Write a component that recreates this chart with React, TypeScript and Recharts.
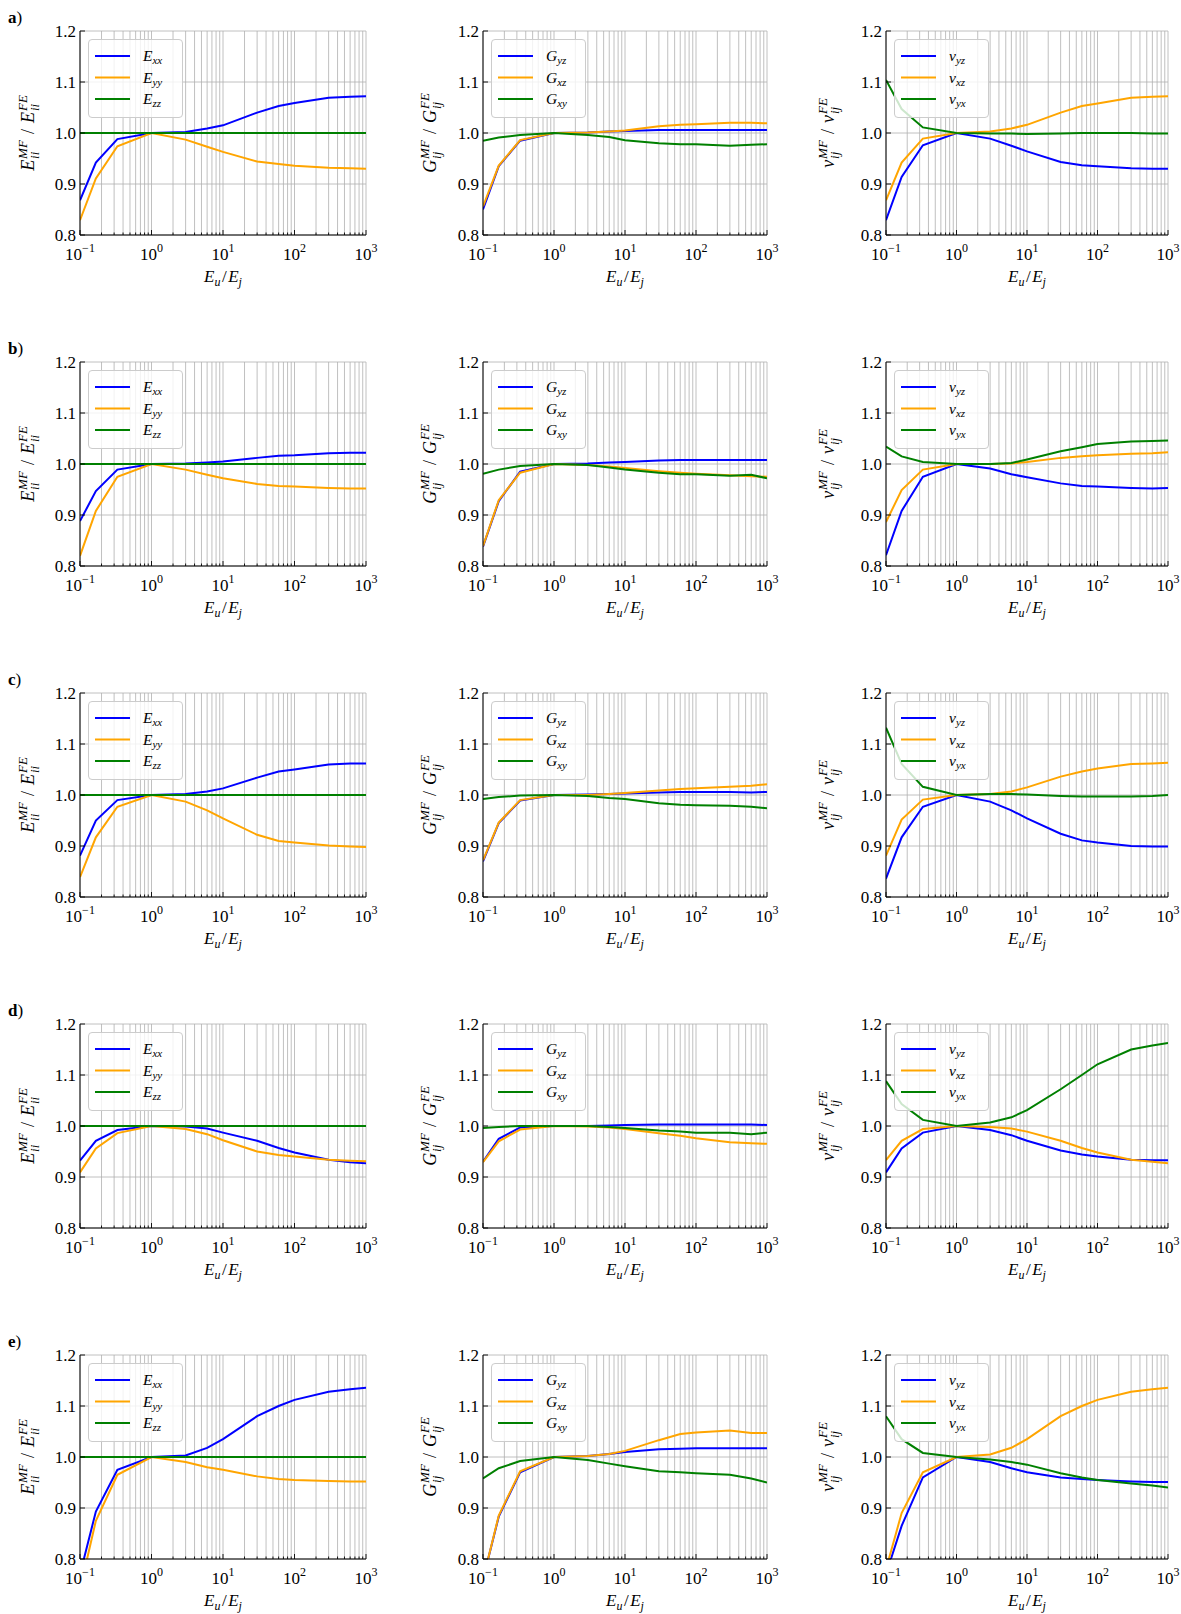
import React from 'react';
import { LineChart, Line, XAxis, YAxis, CartesianGrid, Legend } from 'recharts';

// ---------------- data ----------------
const X_RATIO = [0.1, 1 / 6, 1 / 3, 1, 3, 6, 10, 30, 60, 100, 300, 600, 1000];
const X_TICKS = [
  0.1, 0.2, 0.3, 0.4, 0.5, 0.6, 0.7, 0.8, 0.9,
  1, 2, 3, 4, 5, 6, 7, 8, 9,
  10, 20, 30, 40, 50, 60, 70, 80, 90,
  100, 200, 300, 400, 500, 600, 700, 800, 900,
  1000,
];
const X_MAJOR = [0.1, 1, 10, 100, 1000];
const X_MAJOR_EXP = ['\u22121', '0', '1', '2', '3'];
const Y_TICKS = [0.8, 0.9, 1.0, 1.1, 1.2];
const ROW_LETTERS = ['a', 'b', 'c', 'd', 'e'];

const E_ZZ = [1, 1, 1, 1, 1, 1, 1, 1, 1, 1, 1, 1, 1];

const A_EXX = [0.868, 0.942, 0.988, 1.0, 1.002, 1.009, 1.015, 1.040, 1.053, 1.059, 1.069, 1.071, 1.072];
const A_EYY = [0.829, 0.911, 0.974, 1.0, 0.987, 0.973, 0.963, 0.944, 0.939, 0.936, 0.932, 0.931, 0.930];
const A_GYZ = [0.850, 0.935, 0.985, 1.0, 1.001, 1.003, 1.004, 1.006, 1.006, 1.006, 1.006, 1.006, 1.006];
const A_GXZ = [0.856, 0.936, 0.986, 1.0, 1.001, 1.003, 1.005, 1.013, 1.016, 1.017, 1.020, 1.020, 1.019];
const A_GXY = [0.985, 0.991, 0.996, 1.0, 0.996, 0.992, 0.986, 0.980, 0.978, 0.978, 0.975, 0.977, 0.978];
const A_NYZ = [0.829, 0.914, 0.976, 1.0, 0.989, 0.975, 0.964, 0.943, 0.937, 0.935, 0.931, 0.930, 0.930];
const A_NXZ = [0.868, 0.942, 0.989, 1.0, 1.003, 1.009, 1.016, 1.040, 1.053, 1.058, 1.069, 1.071, 1.072];
const A_NYX = [1.104, 1.047, 1.011, 1.0, 0.999, 0.999, 0.998, 0.999, 1.0, 1.0, 1.0, 0.999, 0.999];

const B_EXX = [0.888, 0.947, 0.989, 1.0, 1.001, 1.003, 1.005, 1.012, 1.016, 1.017, 1.021, 1.022, 1.022];
const B_EYY = [0.820, 0.908, 0.975, 1.0, 0.989, 0.979, 0.972, 0.961, 0.957, 0.956, 0.953, 0.952, 0.952];
const B_GYZ = [0.838, 0.927, 0.985, 1.0, 1.001, 1.003, 1.004, 1.007, 1.008, 1.008, 1.008, 1.008, 1.008];
const B_GXZ = [0.839, 0.929, 0.983, 1.0, 0.998, 0.995, 0.992, 0.986, 0.983, 0.981, 0.978, 0.976, 0.975];
const B_GXY = [0.981, 0.989, 0.996, 1.0, 0.998, 0.993, 0.989, 0.983, 0.980, 0.980, 0.977, 0.979, 0.972];
const B_NYZ = [0.821, 0.908, 0.975, 1.0, 0.991, 0.980, 0.974, 0.962, 0.957, 0.956, 0.953, 0.952, 0.953];
const B_NXZ = [0.886, 0.949, 0.989, 1.0, 1.0, 1.001, 1.004, 1.012, 1.015, 1.017, 1.020, 1.021, 1.023];
const B_NYX = [1.034, 1.015, 1.004, 1.0, 1.0, 1.002, 1.009, 1.025, 1.033, 1.039, 1.044, 1.045, 1.046];

const C_EXX = [0.881, 0.950, 0.990, 1.0, 1.002, 1.007, 1.013, 1.034, 1.046, 1.050, 1.060, 1.062, 1.062];
const C_EYY = [0.839, 0.917, 0.977, 1.0, 0.987, 0.970, 0.954, 0.922, 0.910, 0.907, 0.901, 0.899, 0.898];
const C_GYZ = [0.870, 0.945, 0.989, 1.0, 1.001, 1.002, 1.003, 1.005, 1.006, 1.006, 1.006, 1.005, 1.006];
const C_GXZ = [0.872, 0.946, 0.990, 1.0, 1.0, 1.002, 1.004, 1.009, 1.012, 1.013, 1.016, 1.018, 1.021];
const C_GXY = [0.992, 0.996, 0.999, 1.0, 0.998, 0.994, 0.992, 0.984, 0.981, 0.980, 0.979, 0.977, 0.974];
const C_NYZ = [0.836, 0.917, 0.977, 1.0, 0.987, 0.970, 0.954, 0.924, 0.911, 0.907, 0.900, 0.899, 0.899];
const C_NXZ = [0.881, 0.952, 0.991, 1.0, 1.002, 1.007, 1.015, 1.036, 1.046, 1.052, 1.061, 1.062, 1.063];
const C_NYX = [1.132, 1.061, 1.016, 1.0, 1.002, 1.002, 1.001, 0.998, 0.997, 0.997, 0.997, 0.998, 1.0];

const D_EXX = [0.932, 0.971, 0.992, 1.0, 0.999, 0.995, 0.987, 0.971, 0.957, 0.948, 0.934, 0.929, 0.927];
const D_EYY = [0.909, 0.956, 0.986, 1.0, 0.994, 0.984, 0.972, 0.950, 0.943, 0.940, 0.934, 0.932, 0.931];
const D_GYZ = [0.930, 0.975, 0.997, 1.0, 1.0, 1.001, 1.002, 1.003, 1.003, 1.003, 1.003, 1.003, 1.002];
const D_GXZ = [0.929, 0.970, 0.993, 1.0, 0.999, 0.997, 0.994, 0.986, 0.981, 0.976, 0.968, 0.966, 0.965];
const D_GXY = [0.996, 0.998, 1.0, 1.0, 1.0, 0.998, 0.996, 0.991, 0.989, 0.987, 0.987, 0.984, 0.987];
const D_NYZ = [0.909, 0.956, 0.987, 1.0, 0.992, 0.982, 0.971, 0.952, 0.944, 0.940, 0.934, 0.933, 0.933];
const D_NXZ = [0.933, 0.971, 0.994, 1.0, 0.998, 0.995, 0.989, 0.971, 0.957, 0.948, 0.934, 0.930, 0.927];
const D_NYX = [1.088, 1.043, 1.012, 1.0, 1.007, 1.017, 1.031, 1.072, 1.100, 1.121, 1.150, 1.158, 1.163];

const E_EXX = [0.770, 0.893, 0.975, 1.0, 1.003, 1.018, 1.035, 1.080, 1.100, 1.112, 1.128, 1.133, 1.136];
const E_EYY = [0.740, 0.875, 0.965, 1.0, 0.990, 0.980, 0.975, 0.962, 0.957, 0.955, 0.953, 0.952, 0.952];
const E_GYZ = [0.760, 0.883, 0.970, 1.0, 1.002, 1.006, 1.010, 1.015, 1.016, 1.017, 1.017, 1.017, 1.017];
const E_GXZ = [0.760, 0.885, 0.972, 1.0, 1.002, 1.006, 1.012, 1.033, 1.045, 1.048, 1.052, 1.047, 1.047];
const E_GXY = [0.958, 0.978, 0.992, 1.0, 0.994, 0.987, 0.982, 0.972, 0.970, 0.968, 0.965, 0.958, 0.950];
const E_NYZ = [0.770, 0.865, 0.960, 1.0, 0.990, 0.978, 0.970, 0.960, 0.957, 0.955, 0.952, 0.951, 0.951];
const E_NXZ = [0.780, 0.890, 0.970, 1.0, 1.005, 1.018, 1.035, 1.080, 1.100, 1.112, 1.128, 1.133, 1.136];
const E_NYX = [1.080, 1.035, 1.008, 1.0, 0.995, 0.990, 0.985, 0.968, 0.960, 0.955, 0.948, 0.944, 0.940];

const ROWS = [
  [[A_EXX, A_EYY, E_ZZ], [A_GYZ, A_GXZ, A_GXY], [A_NYZ, A_NXZ, A_NYX]],
  [[B_EXX, B_EYY, E_ZZ], [B_GYZ, B_GXZ, B_GXY], [B_NYZ, B_NXZ, B_NYX]],
  [[C_EXX, C_EYY, E_ZZ], [C_GYZ, C_GXZ, C_GXY], [C_NYZ, C_NXZ, C_NYX]],
  [[D_EXX, D_EYY, E_ZZ], [D_GYZ, D_GXZ, D_GXY], [D_NYZ, D_NXZ, D_NYX]],
  [[E_EXX, E_EYY, E_ZZ], [E_GYZ, E_GXZ, E_GXY], [E_NYZ, E_NXZ, E_NYX]],
];

const COLORS = ['#0000ff', '#ffa500', '#008000'];
const COLUMNS = [
  { base: 'E', ysub: 'ii', subs: ['xx', 'yy', 'zz'], off: -46 },
  { base: 'G', ysub: 'ij', subs: ['yz', 'xz', 'xy'], off: -47 },
  { base: '\u03bd', ysub: 'ij', subs: ['yz', 'xz', 'yx'], off: -52 },
];

// ---------------- layout ----------------
const SERIF = '"Liberation Serif", "DejaVu Serif", "Times New Roman", serif';
const COL_LEFT = [80, 483, 886];
const COL_WIDTH = [286, 284, 282];
const ROW_TOP = [31, 362, 693, 1024, 1355];
const PLOT_H = 204;
const ML = 80;
const MT = 20;
const MR = 20;
const MB = 60;
const FS = 17;
const FS_SMALL = 12;
const FS_LAB = 18;
const FS_LAB_SMALL = 13;

const isMajor = (v: number) => X_MAJOR.indexOf(v) >= 0;

const BottomTick = (p: any) => {
  const { x, y, payload } = p;
  const v = payload.value;
  const major = isMajor(v);
  const idx = X_MAJOR.indexOf(v);
  return (
    <g>
      <line x1={x} x2={x} y1={y} y2={y - (major ? 5 : 2.5)} stroke="#000" strokeWidth={0.9} />
      {major && (
        <text x={x} y={y + 25} textAnchor="middle" fontFamily={SERIF} fontSize={FS} fill="#000">
          10<tspan dy={-8} fontSize={FS_SMALL}>{X_MAJOR_EXP[idx]}</tspan>
        </text>
      )}
    </g>
  );
};

const TopTick = (p: any) => {
  const { x, y, payload } = p;
  const major = isMajor(payload.value);
  return <line x1={x} x2={x} y1={y} y2={y + (major ? 5 : 2.5)} stroke="#000" strokeWidth={0.9} />;
};

const LeftTick = (p: any) => {
  const { x, y, payload } = p;
  return (
    <g>
      <line x1={x} x2={x + 5} y1={y} y2={y} stroke="#000" strokeWidth={0.9} />
      <text x={x - 4} y={y} dy="0.35em" textAnchor="end" fontFamily={SERIF} fontSize={FS} fill="#000">
        {Number(payload.value).toFixed(1)}
      </text>
    </g>
  );
};

const RightTick = (p: any) => {
  const { x, y } = p;
  return <line x1={x} x2={x - 5} y1={y} y2={y} stroke="#000" strokeWidth={0.9} />;
};

function XLabel(props: any) {
  const vb = props.viewBox || {};
  const cx = vb.x + vb.width / 2;
  const by = vb.y + 47;
  return (
    <text x={cx} y={by} textAnchor="middle" fontFamily={SERIF} fontSize={FS} fill="#000">
      <tspan fontStyle="italic">E</tspan>
      <tspan fontStyle="italic" fontSize={FS_SMALL} dy={3.5}>u</tspan>
      <tspan dy={-3.5} dx={1.5}>/</tspan>
      <tspan fontStyle="italic" dx={1.5}>E</tspan>
      <tspan fontStyle="italic" fontSize={FS_SMALL} dy={3.5}>j</tspan>
    </text>
  );
}

function YLabel(props: any, col: any) {
  const vb = props.viewBox || {};
  const bx = vb.x + vb.width + col.off;
  const cy = vb.y + vb.height / 2;
  const supW1 = 18.8;
  const supW2 = 15.9;
  const subW = 7.2;
  return (
    <text
      transform={`rotate(-90 ${bx} ${cy})`}
      x={bx}
      y={cy}
      textAnchor="middle"
      fontFamily={SERIF}
      fontSize={FS_LAB}
      fill="#000"
    >
      <tspan fontStyle="italic">{col.base}</tspan>
      <tspan fontStyle="italic" fontSize={FS_LAB_SMALL} dx={1} dy={-7.5}>MF</tspan>
      <tspan fontStyle="italic" fontSize={FS_LAB_SMALL} dx={-supW1} dy={12}>{col.ysub}</tspan>
      <tspan dx={supW1 - subW + 6} dy={-4.5}>/</tspan>
      <tspan fontStyle="italic" dx={6}>{col.base}</tspan>
      <tspan fontStyle="italic" fontSize={FS_LAB_SMALL} dx={1} dy={-7.5}>FE</tspan>
      <tspan fontStyle="italic" fontSize={FS_LAB_SMALL} dx={-supW2} dy={12}>{col.ysub}</tspan>
    </text>
  );
}

function LegendBox({ col }: any) {
  const W = 95;
  const H = 79;
  return (
    <div
      style={{
        width: W,
        height: H,
        boxSizing: 'border-box',
        border: '1px solid #cccccc',
        borderRadius: 4,
        background: 'rgba(255,255,255,0.8)',
      }}
    >
      <svg width={W - 2} height={H - 2} style={{ display: 'block' }}>
        {col.subs.map((s: string, i: number) => {
          const yy = 16 + i * 21.5;
          return (
            <g key={s}>
              <line x1={6} x2={41} y1={yy} y2={yy} stroke={COLORS[i]} strokeWidth={2} />
              <text x={54} y={yy + 5} fontFamily={SERIF} fontSize={15.5} fill="#000" fontStyle="italic">
                {col.base}
                <tspan fontSize={11} dy={3}>{s}</tspan>
              </text>
            </g>
          );
        })}
      </svg>
    </div>
  );
}

function Panel({ row, colIdx }: { row: number; colIdx: number }) {
  const col = COLUMNS[colIdx];
  const series = ROWS[row][colIdx];
  const width = COL_WIDTH[colIdx];
  const data = X_RATIO.map((x, i) => ({ x, s0: series[0][i], s1: series[1][i], s2: series[2][i] }));
  const left = COL_LEFT[colIdx];
  const top = ROW_TOP[row];
  return (
    <div style={{ position: 'absolute', left: left - ML, top: top - MT }}>
      <LineChart
        width={width + ML + MR}
        height={PLOT_H + MT + MB}
        data={data}
        margin={{ top: MT, right: MR, bottom: 0, left: 0 }}
      >
        <CartesianGrid stroke="#b0b0b0" strokeWidth={0.8} />
        <XAxis
          dataKey="x"
          type="number"
          scale="log"
          domain={[0.1, 1000]}
          allowDataOverflow
          ticks={X_TICKS}
          interval={0}
          height={MB}
          tickSize={0}
          tickMargin={0}
          tickLine={false}
          axisLine={{ stroke: '#000', strokeWidth: 1 }}
          tick={(p: any) => <BottomTick {...p} />}
          label={{ content: (p: any) => <XLabel {...p} /> }}
        />
        <XAxis
          xAxisId="top"
          orientation="top"
          dataKey="x"
          type="number"
          scale="log"
          domain={[0.1, 1000]}
          allowDataOverflow
          ticks={X_TICKS}
          interval={0}
          height={0}
          tickSize={0}
          tickMargin={0}
          tickLine={false}
          axisLine={{ stroke: '#000', strokeWidth: 1 }}
          tick={(p: any) => <TopTick {...p} />}
        />
        <YAxis
          type="number"
          domain={[0.8, 1.2]}
          allowDataOverflow
          ticks={Y_TICKS}
          interval={0}
          width={ML}
          tickSize={0}
          tickMargin={0}
          tickLine={false}
          axisLine={{ stroke: '#000', strokeWidth: 1 }}
          tick={(p: any) => <LeftTick {...p} />}
          label={{ content: (p: any) => YLabel(p, col) }}
        />
        <YAxis
          yAxisId="r"
          orientation="right"
          type="number"
          domain={[0.8, 1.2]}
          allowDataOverflow
          ticks={Y_TICKS}
          interval={0}
          width={0}
          tickSize={0}
          tickMargin={0}
          tickLine={false}
          axisLine={{ stroke: '#000', strokeWidth: 1 }}
          tick={(p: any) => <RightTick {...p} />}
        />
        {[0, 1, 2].map((k) => (
          <Line
            key={k}
            type="linear"
            dataKey={`s${k}`}
            name={`${col.base}${col.subs[k]}`}
            stroke={COLORS[k]}
            strokeWidth={2}
            dot={false}
            activeDot={false}
            isAnimationActive={false}
          />
        ))}
        <Legend
          layout="vertical"
          align="center"
          verticalAlign="middle"
          wrapperStyle={{ position: 'absolute', left: ML + 8, top: MT + 7.5, width: 95, height: 79 }}
          content={() => <LegendBox col={col} />}
        />
      </LineChart>
    </div>
  );
}

export default function App() {
  return (
    <div
      style={{
        position: 'absolute',
        left: 0,
        top: 0,
        width: 1181,
        height: 1614,
        background: '#ffffff',
        fontFamily: SERIF,
      }}
    >
      {ROW_LETTERS.map((letter, r) => (
        <div
          key={letter}
          style={{
            position: 'absolute',
            left: 8,
            top: ROW_TOP[r] - 22,
            fontSize: 17,
            lineHeight: '17px',
            fontFamily: SERIF,
            color: '#000',
          }}
        >
          <b>{letter}</b>)
        </div>
      ))}
      {ROW_LETTERS.map((_, r) =>
        [0, 1, 2].map((c) => <Panel key={`${r}-${c}`} row={r} colIdx={c} />)
      )}
    </div>
  );
}
